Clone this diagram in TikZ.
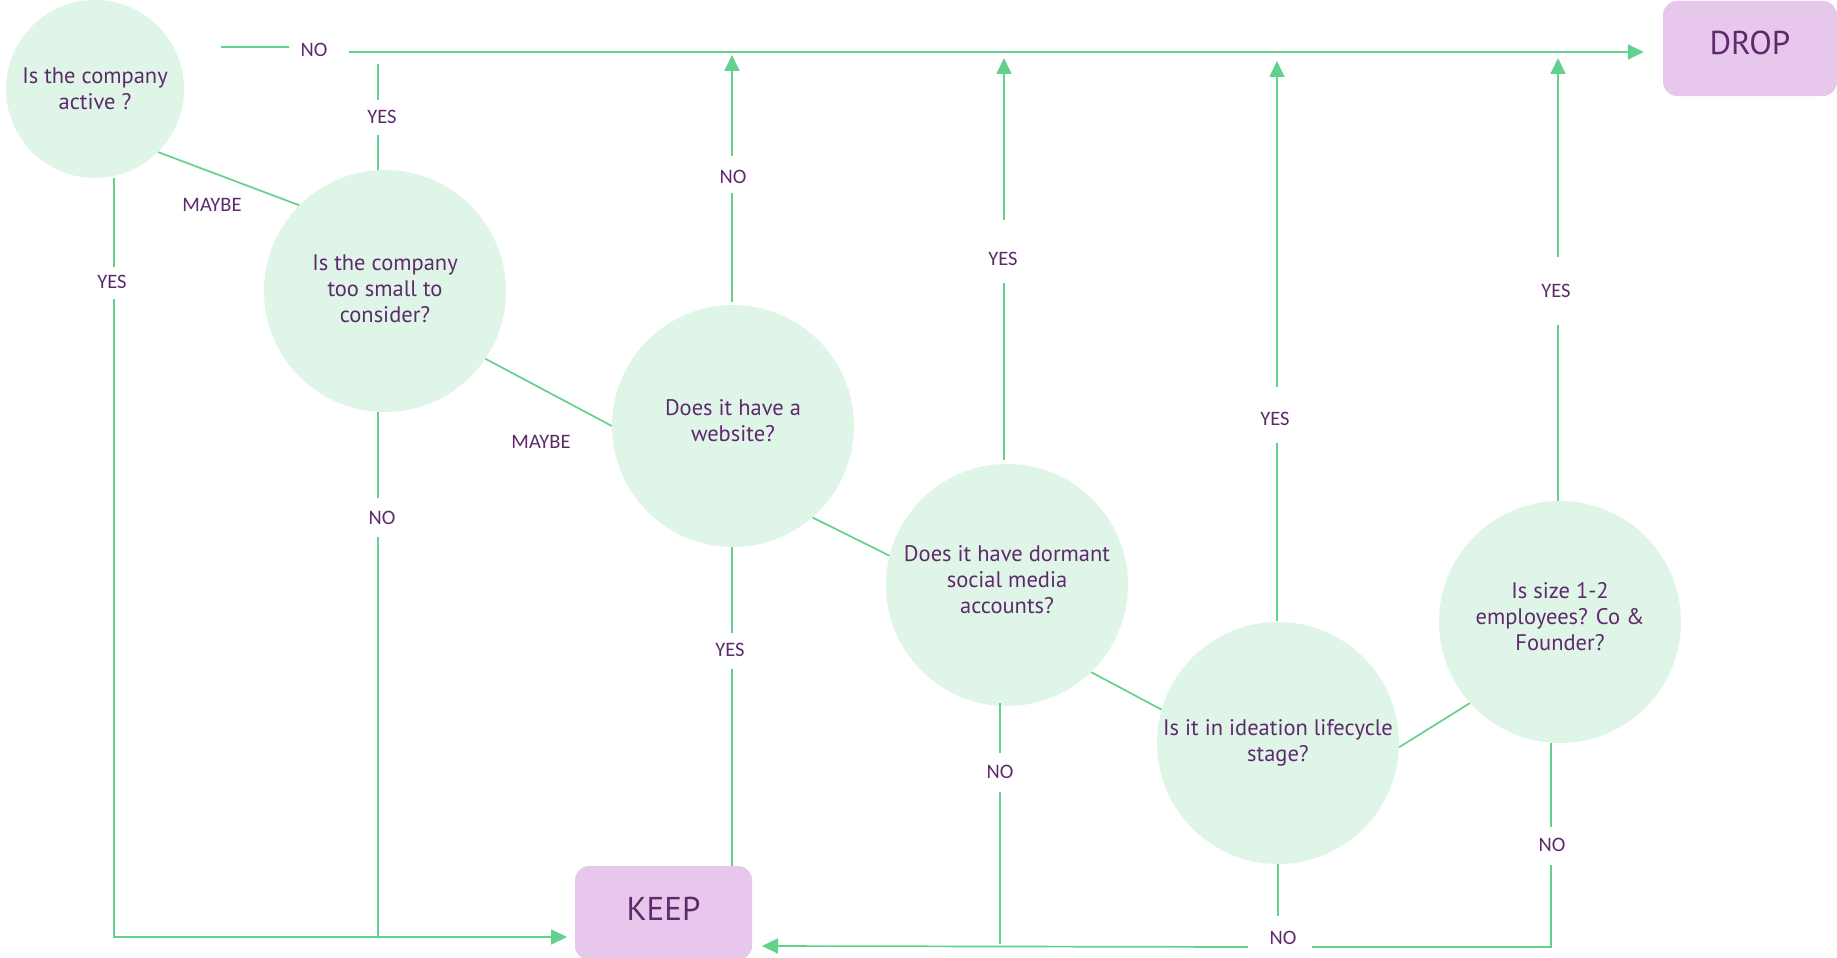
\documentclass[tikz,border=0pt]{standalone}
\usepackage{fontspec}
\setmainfont{PT Sans}
\newfontfamily\lblfont{Carlito}
\usetikzlibrary{arrows.meta}
\definecolor{flowgreen}{HTML}{62D18E}
\definecolor{bubble}{HTML}{DFF5E8}
\definecolor{ink}{HTML}{5E2A6C}
\definecolor{outcome}{HTML}{E8C7EC}
\begin{document}
\begin{tikzpicture}[x=1pt,y=-1pt,
  question/.style={circle, fill=bubble, inner sep=0pt},
  qtext/.style={inner sep=0pt, align=center, text=ink,
    font=\fontsize{22.5}{26}\selectfont},
  outcomebox/.style={rectangle, rounded corners=14pt, fill=outcome, text=ink,
    inner sep=0pt, font=\fontsize{33}{40}\selectfont},
  flow/.style={draw=flowgreen, line width=1.7pt},
  tip/.style={-{Triangle[length=16pt,width=15pt]}},
  answer/.style={text=ink, inner sep=0pt, font=\lblfont\fontsize{20.5}{22}\selectfont}]
\useasboundingbox (0,0) rectangle (1837,958);

% decision bubbles, each with its question centred on it
\node[question, minimum size=178pt,
  label={[qtext]center:{Is the company\\active ?}}] (active) at (95,89) {};
\node[question, minimum size=242pt,
  label={[qtext,yshift=2pt]center:{Is the company\\too small to\\consider?}}] (small) at (385,291) {};
\node[question, minimum size=242pt,
  label={[qtext,yshift=5pt]center:{Does it have a\\website?}}] (web) at (733,426) {};
\node[question, minimum size=242pt,
  label={[qtext,yshift=5pt]center:{Does it have dormant\\social media\\accounts?}}] (social) at (1007,585) {};
\node[question, minimum size=242pt,
  label={[qtext]center:{Is it in ideation lifecycle\\stage?}}] (ideation) at (1278,743) {};
\node[question, minimum size=242pt,
  label={[qtext,yshift=5pt]center:{Is size 1-2\\employees? Co \&\\Founder?}}] (size) at (1560,622) {};

% outcomes
\node[outcomebox, minimum width=174pt, minimum height=95pt] (drop) at (1750,48.5) {\raisebox{-6pt}[0pt][0pt]{DROP}};
\node[outcomebox, minimum width=177pt, minimum height=94pt] (keep) at (663.5,913) {\raisebox{-7.5pt}[0pt][0pt]{KEEP}};

% answer labels
\node[answer] (l-active-no)    at (314,50)   {NO};
\node[answer] (l-small-yes)    at (382,117)  {YES};
\node[answer] (l-active-maybe) at (212,205)  {MAYBE};
\node[answer] (l-active-yes)   at (112,282)  {YES};
\node[answer] (l-small-no)     at (382,518)  {NO};
\node[answer] (l-small-maybe)  at (541,442)  {MAYBE};
\node[answer] (l-web-no)       at (733,177)  {NO};
\node[answer] (l-web-yes)      at (730,650)  {YES};
\node[answer] (l-social-yes)   at (1003,259) {YES};
\node[answer] (l-social-no)    at (1000,772) {NO};
\node[answer] (l-idea-yes)     at (1275,419) {YES};
\node[answer] (l-idea-no)      at (1283,938) {NO};
\node[answer] (l-size-no)      at (1552,845) {NO};
\node[answer] (l-size-yes)     at (1556,291) {YES};

% top rail towards DROP
\coordinate (rail-a) at (221,47);
\coordinate (rail-b) at (289,47);
\coordinate (rail-c) at (349,52);
\draw[flow] (rail-a) -- (rail-b);
\draw[flow, tip, shorten >=19pt] (rail-c) -- (rail-c -| drop.west);

% small: YES up to the rail
\coordinate (sy1) at (378,170);
\coordinate (sy2) at (378,135);
\coordinate (sy3) at (378,100);
\coordinate (sy4) at (378,64);
\draw[flow] (sy1) -- (sy2);
\draw[flow] (sy3) -- (sy4);

% active -> small (MAYBE)
\draw[flow] (active.-45) -- (small.135);

% active: YES down to KEEP
\coordinate (ay1) at (114,178);
\coordinate (ay2) at (114,267);
\coordinate (ay3) at (114,299);
\coordinate (ay4) at (114,937);
\coordinate (ay5) at (567,937);
\draw[flow] (ay1) -- (ay2);
\draw[flow, tip] (ay3) -- (ay4) -- (ay5);

% small: NO down
\coordinate (sn1) at (378,412);
\coordinate (sn2) at (378,498);
\coordinate (sn3) at (378,537);
\coordinate (sn4) at (378,937);
\draw[flow] (sn1) -- (sn2);
\draw[flow] (sn3) -- (sn4);

% small -> web (MAYBE)
\draw[flow] (small.-34) -- (web.180);

% web: NO up
\coordinate (wn1) at (732,302);
\coordinate (wn2) at (732,193);
\coordinate (wn3) at (732,156);
\coordinate (wn4) at (732,55);
\draw[flow] (wn1) -- (wn2);
\draw[flow, tip] (wn3) -- (wn4);

% web: YES down to KEEP
\coordinate (wy1) at (732,547);
\coordinate (wy2) at (732,633);
\coordinate (wy3) at (732,669);
\draw[flow] (wy1) -- (wy2);
\draw[flow] (wy3) -- (wy3 |- keep.north);

% web -> social
\draw[flow] (web.-49) -- (social.166);

% social: YES up
\coordinate (oy1) at (1004,460);
\coordinate (oy2) at (1004,283);
\coordinate (oy3) at (1004,220);
\coordinate (oy4) at (1004,58);
\draw[flow] (oy1) -- (oy2);
\draw[flow, tip] (oy3) -- (oy4);

% social: NO down
\coordinate (on1) at (1000,703);
\coordinate (on2) at (1000,753);
\coordinate (on3) at (1000,792);
\coordinate (on4) at (1000,944);
\draw[flow] (on1) -- (on2);
\draw[flow] (on3) -- (on4);

% social -> ideation
\draw[flow] (social.-46) -- (ideation.164);

% ideation: YES up
\coordinate (iy1) at (1277,621);
\coordinate (iy2) at (1277,443);
\coordinate (iy3) at (1277,387);
\coordinate (iy4) at (1277,61);
\draw[flow] (iy1) -- (iy2);
\draw[flow, tip] (iy3) -- (iy4);

% ideation / size: NO back to KEEP
\coordinate (in1) at (1278,864);
\coordinate (in2) at (1278,916);
\coordinate (bot-l) at (1248,947);
\coordinate (bot-k) at (762,946);
\coordinate (bot-r) at (1312,947);
\coordinate (bot-c) at (1551,947);
\coordinate (zn1) at (1551,865);
\coordinate (zn2) at (1551,827);
\draw[flow] (in1) -- (in2);
\draw[flow, tip] (bot-l) -- (bot-k);
\draw[flow] (bot-r) -- (bot-c) -- (zn1);
\draw[flow] (zn2) -- (zn2 |- size.south);

% ideation -> size
\draw[flow] (ideation.-2) -- (size.-138);

% size: YES up
\coordinate (zy1) at (1558,501);
\coordinate (zy2) at (1558,325);
\coordinate (zy3) at (1558,257);
\coordinate (zy4) at (1558,58);
\draw[flow] (zy1) -- (zy2);
\draw[flow, tip] (zy3) -- (zy4);
\end{tikzpicture}
\end{document}
